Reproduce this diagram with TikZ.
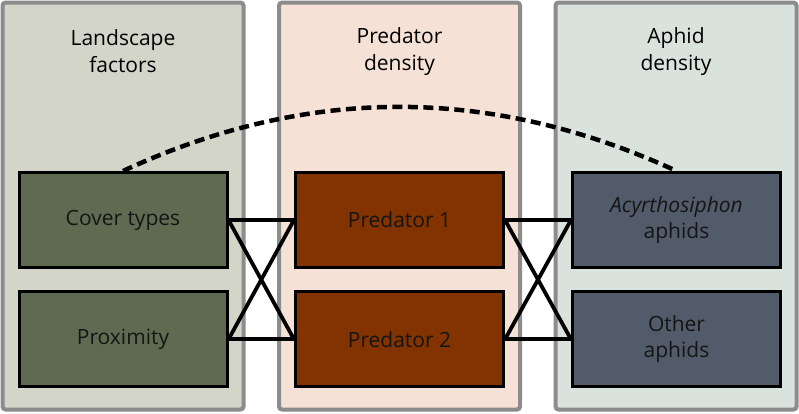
\documentclass[tikz,border=0pt]{standalone}
\usepackage{fontspec}
\setmainfont{Open Sans}
\definecolor{panelgray}{HTML}{8C8C8C}
\definecolor{landfill}{HTML}{D3D5C9}
\definecolor{predfill}{HTML}{F5E1D6}
\definecolor{aphfill}{HTML}{D9E2DD}
\definecolor{greenbox}{HTML}{5E6B50}
\definecolor{brownbox}{HTML}{823300}
\definecolor{slatebox}{HTML}{515B6A}
\definecolor{boxtext}{HTML}{151515}
\begin{document}
\begin{tikzpicture}[x=1pt,y=-1pt,
  panel/.style={draw=panelgray, line width=4pt, rounded corners=3pt},
  box/.style={draw=black, line width=3pt, minimum width=208pt, minimum height=95pt,
    inner sep=0pt, font=\fontsize{21}{26}\selectfont, text=boxtext, align=center},
  hdr/.style={font=\fontsize{21}{27}\selectfont, text=black, align=center, inner sep=0pt},
  link/.style={draw=black, line width=3.8pt},
  dashlink/.style={draw=black, line width=4.5pt, dash pattern=on 10pt off 5.5pt}]
\useasboundingbox (0,0) rectangle (799,413);
% panels
\path[panel, fill=landfill] (2.5,2.5) rectangle (243.5,409.5);
\path[panel, fill=predfill] (279,2.5) rectangle (520,409.5);
\path[panel, fill=aphfill] (555.5,2.5) rectangle (796.5,409.5);
% headers
\node[hdr] (hland) at (123,51.5) {Landscape\\factors};
\node[hdr] (hpred) at (399.5,51.5) {Predator\\density};
\node[hdr] (haph) at (676,51.5) {Aphid\\density};
% boxes
\node[box, fill=greenbox] (cov) at (123,220) {Cover types};
\node[box, fill=greenbox] (prox) at (123,339.3) {Proximity};
\node[box, fill=brownbox] (p1) at (399.5,220) {Predator 1};
\node[box, fill=brownbox] (p2) at (399.5,339.3) {Predator 2};
\node[box, fill=slatebox] (acy) at (676.5,220) {\textit{Acyrthosiphon}\\aphids};
\node[box, fill=slatebox] (oth) at (676.5,339.3) {Other\\aphids};
% links
\draw[link] (cov.east) -- (p1.west);
\draw[link] (cov.east) -- (p2.west);
\draw[link] (prox.east) -- (p1.west);
\draw[link] (prox.east) -- (p2.west);
\draw[link] (p1.east) -- (acy.west);
\draw[link] (p1.east) -- (oth.west);
\draw[link] (p2.east) -- (acy.west);
\draw[link] (p2.east) -- (oth.west);
% dashed curve
\draw[dashlink] (cov.north) .. controls (307,85.5) and (491,85.5) .. (acy.north);
\end{tikzpicture}
\end{document}
